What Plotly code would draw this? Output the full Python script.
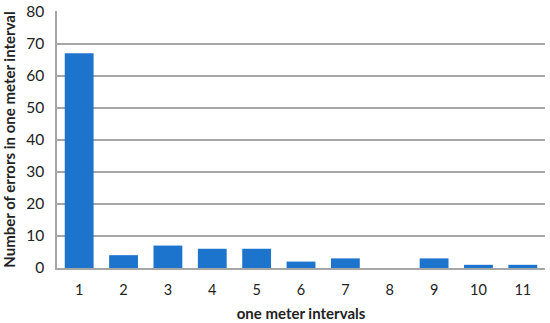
import plotly.graph_objects as go

intervals = [str(i) for i in range(1, 12)]
errors = [67, 4, 7, 6, 6, 2, 3, 0, 3, 1, 1]

fig = go.Figure(go.Bar(x=intervals, y=errors, marker_color="#1C74CC", marker_line_width=0))

fig.update_layout(
    width=550, height=323,
    margin=dict(l=57, r=5, t=11, b=55, autoexpand=False),
    plot_bgcolor="white", paper_bgcolor="white",
    bargap=0.35,
    showlegend=False,
    font=dict(family="Lato", size=14, color="#222222"),
)
fig.update_xaxes(
    title_text="<b>one meter intervals</b>", title_font=dict(size=15), title_standoff=11,
    showline=True, linecolor="#A6A6A6", linewidth=1.5, showgrid=False,
    ticks="outside", ticklen=8, tickcolor="rgba(0,0,0,0)",
    tickfont=dict(size=14.5), automargin=False,
)
fig.update_yaxes(
    title_text="<b>Number of errors in one meter interval</b>", title_font=dict(size=15), title_standoff=8,
    range=[0, 80.2], tickvals=list(range(0, 81, 10)), showgrid=True, gridcolor="#A6A6A6", gridwidth=1.5,
    showline=True, linecolor="#A6A6A6", linewidth=1.5, zeroline=False,
    ticks="outside", ticklen=8, tickcolor="rgba(0,0,0,0)",
    tickfont=dict(size=15.5), automargin=False,
)

# drop the default body margin so the figure sits at the page corner
fig.write_html("out.html", config={"displayModeBar": False},
               post_script="document.body.style.margin='0';")
